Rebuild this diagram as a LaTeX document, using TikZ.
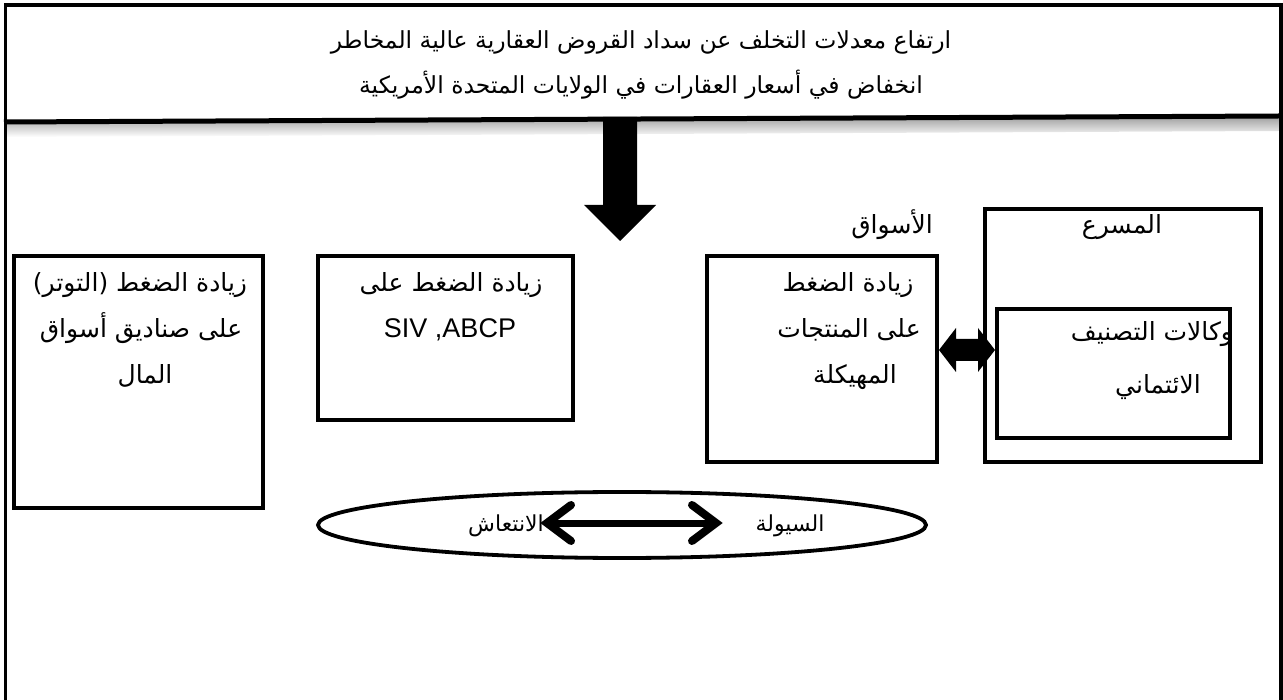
\documentclass[tikz,border=0pt]{standalone}
\usepackage{fontspec}
\setmainfont{Liberation Sans}
\newfontfamily\arabicfont[Script=Arabic]{DejaVu Sans}
\TeXXeTstate=1
\usetikzlibrary{shapes.geometric,calc}
\newcommand{\artext}[1]{\beginR #1\endR}

\begin{document}
\begin{tikzpicture}[x=1pt,y=-1pt,
  box/.style={draw, line width=3.6pt, inner sep=0pt, outer sep=0pt, anchor=north west},
  arline/.style={font=\arabicfont\fontsize{25}{30}\selectfont, inner sep=0pt, anchor=base},
  ovline/.style={font=\arabicfont\fontsize{22}{26}\selectfont, inner sep=0pt, anchor=base},
  titleline/.style={font=\arabicfont\fontsize{23.5}{28}\selectfont, inner sep=0pt, anchor=base},
  latline/.style={font=\fontsize{27}{32}\selectfont, inner sep=0pt, anchor=base},
]
\useasboundingbox (0,0) rectangle (1283,700);

% headline
\node[titleline] (t1) at (641,49) {\artext{ارتفاع معدلات التخلف عن سداد القروض العقارية عالية المخاطر}};
\node[titleline] (t2) at (641,94) {\artext{انخفاض في أسعار العقارات في الولايات المتحدة الأمريكية}};

% separator with its soft shadow
\shade[top color=black!35, bottom color=white] (4,124) -- (1279,118) -- (1279,131) -- (4,137) -- cycle;
\coordinate (sepL) at (4,122);
\coordinate (sepR) at (1279,116);
\draw[line width=5pt] (sepL) -- (sepR);

% outer frame (open at the bottom)
\draw[line width=3.6pt] (5.5,700) -- (5.5,5) -- (1281,5) -- (1281,700);

% block arrow pointing down
\coordinate (arrTop) at (620,117);
\fill ($(arrTop)+(-17,0)$) -- ++(34,0) -- ++(0,88) -- ++(19,0) -- ++(-36,36) -- ++(-36,-36) -- ++(19,0) -- cycle;

% boxes
\node[box, minimum width=249pt, minimum height=252pt] (b1) at (14,256) {};
\node[box, minimum width=255pt, minimum height=164pt] (b2) at (318,256) {};
\node[box, minimum width=230pt, minimum height=206pt] (b3) at (707,256) {};
\node[box, minimum width=276pt, minimum height=253pt] (acc) at (985,209) {};
\node[box, minimum width=233pt, minimum height=129pt] (cra) at (997,309) {};

% box texts
\node[arline] (b1a) at (140,292) {\artext{زيادة الضغط (التوتر)}};
\node[arline] (b1b) at (141,338) {\artext{على صناديق أسواق}};
\node[arline] (b1c) at (145,384) {\artext{المال}};

\node[arline] (b2a) at (451,292) {\artext{زيادة الضغط على}};
\node[latline] (b2b) at (450,338) {SIV ,ABCP};

\node[arline] (lbm) at (892,234) {\artext{الأسواق}};
\node[arline] (b3a) at (848,292) {\artext{زيادة الضغط}};
\node[arline] (b3b) at (849,338) {\artext{على المنتجات}};
\node[arline] (b3c) at (855,384) {\artext{المهيكلة}};

\node[arline] (lba) at (1122,234) {\artext{المسرع}};
\node[arline] (c1) at (1152,341) {\artext{وكالات التصنيف}};
\node[arline] (c2) at (1158,394) {\artext{الائتماني}};

% two-way link between markets and rating agencies
\coordinate (dl) at ($(b3.north east)+(2,94)$);
\coordinate (dr) at ($(cra.north west)+(-2,41)$);
\fill (dl) -- ++(17,-22) -- ++(0,11) -- ($(dr)+(-17,-11)$) -- ++(0,-11) -- (dr) -- ++(-17,22) -- ++(0,-11) -- ($(dl)+(17,11)$) -- ++(0,11) -- cycle;

% liquidity / recovery ellipse
\node[draw, ellipse, line width=3.8pt, minimum width=608pt, minimum height=66pt, inner sep=0pt] (el) at (622,525) {};
\node[ovline] (liq) at (790,531) {\artext{السيولة}};
\node[ovline] (rec) at (506,531) {\artext{الانتعاش}};
\coordinate (al) at (547,523);
\coordinate (ar) at (716,523);
\begin{scope}[black!30, opacity=0.6, shift={(3,4)}]
  \draw[line width=7pt] (al) -- (ar);
  \draw[line width=7pt, line join=miter] ($(al)+(24,-18)$) -- (al) -- ($(al)+(24,18)$);
  \draw[line width=7pt, line join=miter] ($(ar)+(-24,-18)$) -- (ar) -- ($(ar)+(-24,18)$);
\end{scope}
\draw[line width=7pt] (al) -- (ar);
\draw[line width=8pt, line join=miter, line cap=round] ($(al)+(24,-18)$) -- (al) -- ($(al)+(24,18)$);
\draw[line width=8pt, line join=miter, line cap=round] ($(ar)+(-24,-18)$) -- (ar) -- ($(ar)+(-24,18)$);
\end{tikzpicture}
\end{document}
